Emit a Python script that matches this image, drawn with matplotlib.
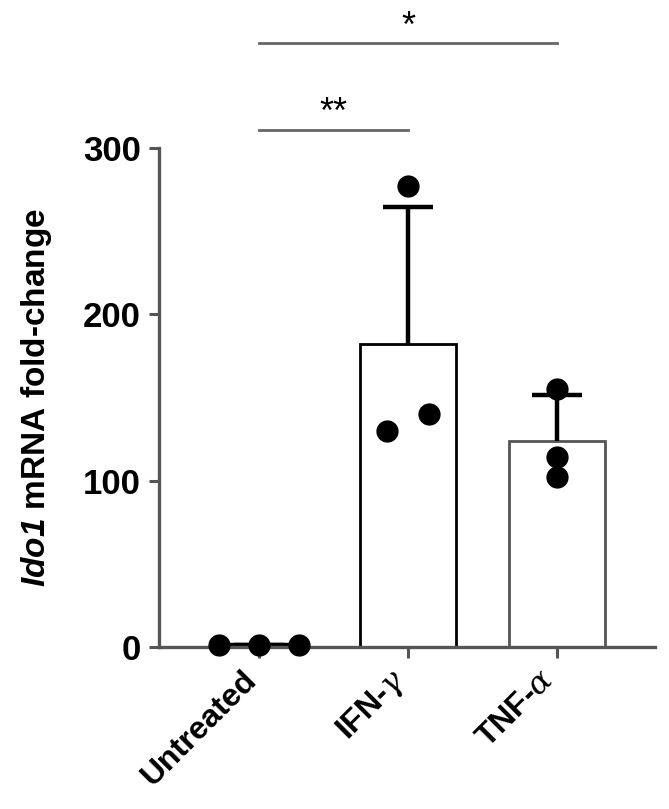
import numpy as np
import matplotlib.pyplot as plt
from matplotlib.transforms import ScaledTranslation

plt.rcParams['font.family'] = ['Liberation Sans', 'DejaVu Sans']
plt.rcParams['mathtext.fontset'] = 'custom'
plt.rcParams['mathtext.it'] = 'DejaVu Serif:italic'
plt.rcParams['mathtext.rm'] = 'Liberation Sans'
plt.rcParams['mathtext.bf'] = 'Liberation Sans:bold'
plt.rcParams['mathtext.bfit'] = 'Liberation Sans:bold:italic'

groups = ['Untreated', r'IFN-$\gamma$', r'TNF-$\alpha$']
untreated = [1.0, 1.2, 1.0]
ifn = [130, 277, 140]
tnf = [102, 155, 114]
jitter = [-0.27, 0.0, 0.27]
ifn_jitter = [-0.14, 0.0, 0.14]
tnf_jitter = [0.0, 0.0, 0.0]
sig_pairs = [(0, 1, 311, '**'), (0, 2, 363, '*')]

values = [untreated, ifn, tnf]
means = [np.mean(v) for v in values]
sds = [np.std(v, ddof=1) for v in values]
x = np.arange(len(groups))

fig = plt.figure(figsize=(6.69, 8.09), dpi=100)
ax = fig.add_axes([0.2377, 0.2002, 0.742, 0.6168])

spine_c = '#555555'
edge_cols = ['black', 'black', '#555555']
ax.bar(x, means, width=0.65, color='white', edgecolor=edge_cols, linewidth=2, zorder=1)

# SD error bars (upper only)
cap = 0.168
for i in range(3):
    top = means[i] + sds[i]
    ax.plot([x[i], x[i]], [means[i], top], color='black', lw=3.2, zorder=2, solid_capstyle='butt')
    ax.plot([x[i] - cap, x[i] + cap], [top, top], color='black', lw=3.2, zorder=2, solid_capstyle='butt')
ax.plot([x[0] - 0.27, x[0] + 0.27], [means[0], means[0]], color='black', lw=3.2, zorder=2)

jits = [jitter, ifn_jitter, tnf_jitter]
for i in range(3):
    ax.plot(x[i] + np.array(jits[i]), values[i], 'o', color='black', markersize=15,
            zorder=3, clip_on=False)

for a, b, h, label in sig_pairs:
    ax.plot([x[a], x[b]], [h, h], color='#666666', lw=2, clip_on=False)
    ax.text((x[a] + x[b]) / 2, h + 4, label, ha='center', va='baseline', fontsize=26, clip_on=False)

ax.set_xlim(-0.671, 2.66)
ax.set_ylim(0, 300)
ax.set_yticks([0, 100, 200, 300])
ax.set_xticks(x)
ax.set_xticklabels([])
shift = ScaledTranslation(-0.18, -0.18, fig.dpi_scale_trans)
for i, g in enumerate(groups):
    ax.text(x[i], 0, g, transform=ax.get_xaxis_transform() + shift, rotation=45,
            ha='right', va='top', rotation_mode='anchor', fontsize=23, fontweight='bold')
for lab in ax.get_yticklabels():
    lab.set_fontweight('bold')
ax.tick_params(axis='y', labelsize=25, length=7, width=2.2, color=spine_c, pad=6)
ax.tick_params(axis='x', length=8, width=2.2, color=spine_c)

for s in ['top', 'right']:
    ax.spines[s].set_visible(False)
for s in ['left', 'bottom']:
    ax.spines[s].set_linewidth(2.4)
    ax.spines[s].set_color(spine_c)

ax.set_ylabel(r'$\mathbfit{Ido1}$ mRNA fold-change', fontsize=24, fontweight='bold')
ax.yaxis.set_label_coords(-0.211, 0.5)

fig.savefig('out.png', dpi=100)
